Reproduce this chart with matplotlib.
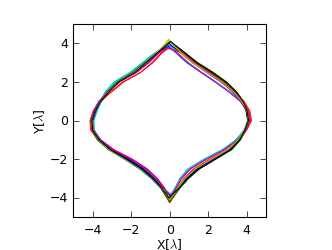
import numpy as np
import matplotlib
matplotlib.use("Agg")
import matplotlib.pyplot as plt

plt.style.use("classic")
plt.rcParams.update({'font.size': 9, 'figure.facecolor': 'white',
                     'savefig.facecolor': 'white', 'axes.linewidth': 0.8})

# y levels shared by every curve (top to bottom)
Y_LEVELS = [3.5, 3.0, 2.5, 2.0, 1.5, 1.0, 0.5, 0.0, -0.5, -1.0, -1.5, -2.0, -2.5, -3.0, -3.5]

COLORS = ['b', 'g', 'r', 'c', 'm', 'y', 'k', 'b', 'g', 'r', 'c', 'm', 'y', 'k']

# x of the left branch at each y level, one row per curve
X_LEFT = [
    [-0.60, -1.17, -1.80, -2.64, -3.15, -3.59, -3.87, -4.04, -4.00, -3.66, -3.04, -2.14, -1.37, -0.79, -0.36],
    [-0.70, -1.32, -1.95, -2.74, -3.25, -3.59, -3.87, -4.04, -4.05, -3.71, -3.14, -2.29, -1.52, -0.89, -0.46],
    [-0.45, -0.92, -1.50, -2.39, -3.00, -3.59, -3.97, -4.14, -4.10, -3.71, -2.94, -1.94, -1.17, -0.64, -0.26],
    [-0.75, -1.37, -2.05, -2.89, -3.35, -3.59, -3.77, -3.94, -3.90, -3.61, -3.14, -2.29, -1.52, -0.89, -0.41],
    [-0.55, -1.07, -1.70, -2.59, -3.20, -3.69, -3.97, -4.09, -4.00, -3.61, -2.94, -1.99, -1.22, -0.69, -0.31],
    [-0.65, -1.17, -1.80, -2.64, -3.20, -3.64, -3.92, -4.09, -4.05, -3.71, -3.19, -2.34, -1.57, -0.94, -0.46],
    [-0.60, -1.22, -1.85, -2.69, -3.15, -3.54, -3.82, -3.99, -3.95, -3.61, -3.09, -2.19, -1.42, -0.84, -0.41],
    [-0.65, -1.22, -1.85, -2.64, -3.15, -3.54, -3.82, -4.04, -4.00, -3.61, -2.99, -2.09, -1.32, -0.79, -0.36],
    [-0.70, -1.27, -1.90, -2.74, -3.25, -3.64, -3.92, -4.09, -4.05, -3.76, -3.19, -2.34, -1.57, -0.94, -0.46],
    [-0.40, -0.87, -1.50, -2.44, -3.05, -3.59, -3.92, -4.09, -4.05, -3.66, -2.99, -1.99, -1.22, -0.69, -0.31],
    [-0.80, -1.42, -2.05, -2.84, -3.30, -3.54, -3.77, -3.94, -3.95, -3.66, -3.19, -2.34, -1.57, -0.94, -0.46],
    [-0.60, -1.12, -1.75, -2.64, -3.20, -3.64, -3.92, -4.04, -3.95, -3.56, -2.89, -1.94, -1.17, -0.64, -0.26],
    [-0.70, -1.22, -1.85, -2.64, -3.15, -3.59, -3.87, -4.04, -4.00, -3.66, -3.14, -2.29, -1.52, -0.89, -0.41],
    [-0.65, -1.22, -1.80, -2.64, -3.15, -3.59, -3.87, -4.04, -4.00, -3.66, -3.09, -2.24, -1.47, -0.89, -0.41],
]

# x of the right branch at each y level
X_RIGHT = [
    [0.57, 1.17, 1.92, 2.66, 3.31, 3.76, 4.07, 4.15, 3.95, 3.63, 3.13, 2.28, 1.44, 0.88, 0.48],
    [0.72, 1.42, 2.22, 2.96, 3.46, 3.81, 4.02, 4.10, 3.95, 3.68, 3.23, 2.38, 1.54, 0.98, 0.53],
    [0.62, 1.27, 2.07, 2.76, 3.36, 3.86, 4.17, 4.25, 4.00, 3.63, 3.03, 2.08, 1.24, 0.73, 0.38],
    [0.37, 0.92, 1.62, 2.36, 3.06, 3.66, 4.02, 4.15, 3.90, 3.48, 2.78, 1.78, 0.94, 0.53, 0.28],
    [0.42, 0.97, 1.67, 2.41, 3.11, 3.71, 4.07, 4.20, 3.95, 3.53, 2.83, 1.88, 1.04, 0.58, 0.28],
    [0.57, 1.17, 1.97, 2.71, 3.26, 3.71, 3.97, 4.05, 3.85, 3.53, 2.98, 2.13, 1.29, 0.78, 0.38],
    [0.77, 1.37, 2.17, 2.91, 3.41, 3.76, 3.97, 4.05, 3.90, 3.63, 3.18, 2.33, 1.49, 0.93, 0.48],
    [0.67, 1.27, 2.02, 2.71, 3.26, 3.71, 4.02, 4.10, 3.90, 3.58, 3.08, 2.23, 1.39, 0.83, 0.43],
    [0.82, 1.47, 2.27, 2.96, 3.46, 3.81, 4.02, 4.05, 3.90, 3.68, 3.23, 2.38, 1.54, 0.98, 0.53],
    [0.72, 1.32, 2.12, 2.81, 3.36, 3.81, 4.12, 4.20, 3.95, 3.58, 3.03, 2.13, 1.29, 0.78, 0.43],
    [0.32, 0.87, 1.62, 2.41, 3.11, 3.71, 4.02, 4.10, 3.85, 3.43, 2.73, 1.78, 0.99, 0.53, 0.28],
    [0.37, 0.92, 1.62, 2.36, 3.06, 3.66, 4.02, 4.15, 3.95, 3.53, 2.88, 1.93, 1.09, 0.63, 0.33],
    [0.62, 1.22, 1.97, 2.71, 3.31, 3.76, 4.02, 4.10, 3.90, 3.58, 3.03, 2.18, 1.34, 0.78, 0.43],
    [0.82, 1.42, 2.22, 2.91, 3.46, 3.81, 4.02, 4.10, 3.90, 3.63, 3.18, 2.38, 1.54, 0.93, 0.48],
]

# cusp points (x, y) at the top and bottom of each curve
TOP_CUSP = [(0.02, 3.95), (0.00, 4.10), (-0.05, 3.80), (-0.05, 4.00), (-0.10, 3.85), (-0.05, 4.20), (0.05, 4.05),
            (0.05, 3.90), (0.05, 4.05), (-0.05, 3.75), (-0.05, 3.95), (-0.10, 3.80), (-0.05, 4.15), (0.05, 4.10)]
BOT_CUSP = [(0.05, -3.95), (0.00, -4.25), (0.00, -4.25), (0.05, -3.85), (0.05, -3.90), (-0.05, -4.00), (0.00, -4.05),
            (0.05, -3.90), (0.00, -4.20), (0.00, -4.15), (0.10, -3.80), (0.05, -3.95), (0.00, -4.10), (-0.05, -4.00)]

fig = plt.figure(figsize=(3.32, 2.51), dpi=100)
ax = fig.add_axes([0.221, 0.131, 0.580, 0.769])

yl = np.array(Y_LEVELS)
for i in range(len(COLORS)):
    xs = np.r_[TOP_CUSP[i][0], X_LEFT[i], BOT_CUSP[i][0], X_RIGHT[i][::-1], TOP_CUSP[i][0]]
    ys = np.r_[TOP_CUSP[i][1], yl, BOT_CUSP[i][1], yl[::-1], TOP_CUSP[i][1]]
    ax.plot(xs, ys, color=COLORS[i], lw=0.7)

ax.set_xlim(-5, 5)
ax.set_ylim(-5, 5)
ax.set_xticks([-4, -2, 0, 2, 4])
ax.set_yticks([-4, -2, 0, 2, 4])
ax.set_xlabel("X[$\\lambda$]", labelpad=0)
ax.set_ylabel("Y[$\\lambda$]", labelpad=2)
fig.savefig("out.png", dpi=100)
